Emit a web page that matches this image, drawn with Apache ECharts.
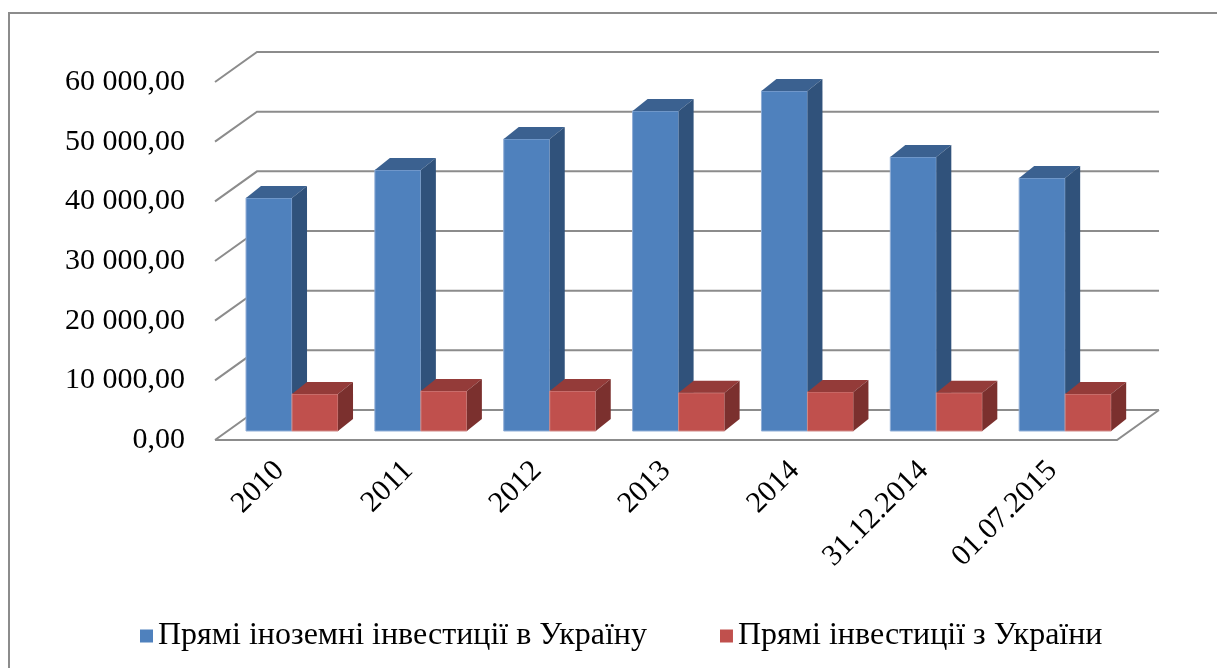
<!DOCTYPE html>
<html>
<head>
<meta charset="utf-8">
<script src="https://cdn.jsdelivr.net/npm/echarts@6.0.0/dist/echarts.min.js"></script>
<style>
  html, body { margin: 0; padding: 0; background: #fff; }
  #chart { width: 1217px; height: 668px; }
</style>
</head>
<body>
<div id="chart"></div>
<script>
const categories = ["2010", "2011", "2012", "2013", "2014", "31.12.2014", "01.07.2015"];
const inflow = [39050, 43740, 48940, 53630, 56980, 45920, 42400];
const outflow = [6200, 6700, 6700, 6400, 6550, 6400, 6200];
const yTicks = [0, 10000, 20000, 30000, 40000, 50000, 60000];
const seriesNames = ["Прямі іноземні інвестиції в Україну", "Прямі інвестиції з України"];

// oblique "3D" offsets (px)
const WALL_DX = 42, WALL_DY = -30;   // front plane -> back wall
const PLANE_DX = 12.6, PLANE_DY = -9; // front plane -> bar front faces
const BAR_DX = 15, BAR_DY = -12;      // bar depth
const FONT = "'Liberation Serif', 'Times New Roman', serif";

const fmt = (v) => String(v).replace(/\B(?=(\d{3})+(?!\d))/g, " ") + ",00";

const lineStyle = { stroke: "#8c8c8c", lineWidth: 2, fill: null };

function renderWall(params, api) {
  const cs = params.coordSys;
  const v = api.value(1);
  const y = api.coord([0, v])[1];
  const xL = cs.x, xR = cs.x + cs.width;
  const children = [{
    type: "polyline",
    shape: { points: [[xL, y], [xL + WALL_DX, y + WALL_DY], [xR + WALL_DX, y + WALL_DY]] },
    style: lineStyle
  }];
  if (v === 0) {
    children.push({
      type: "polyline",
      shape: { points: [[xL, y], [xR, y], [xR + WALL_DX, y + WALL_DY]] },
      style: lineStyle
    });
  }
  return { type: "group", children };
}

function makeBar(side, colors) {
  return function (params, api) {
    const i = api.value(0), v = api.value(1);
    const bw = api.size([1, 0])[0];
    const top = api.coord([i, v]);
    const bot = api.coord([i, 0]);
    const w = bw * 0.357;
    const cx = top[0] + PLANE_DX;
    const x0 = side < 0 ? cx - w : cx;
    const x1 = x0 + w;
    const yt = top[1] + PLANE_DY;
    const yb = bot[1] + PLANE_DY;
    return {
      type: "group",
      children: [
        { type: "rect", shape: { x: x0, y: yt, width: w, height: yb - yt },
          style: { fill: colors[0], stroke: colors[3], lineWidth: 1 } },
        { type: "polygon",
          shape: { points: [[x0, yt], [x1, yt], [x1 + BAR_DX, yt + BAR_DY], [x0 + BAR_DX, yt + BAR_DY]] },
          style: { fill: colors[1] } },
        { type: "polygon",
          shape: { points: [[x1, yt], [x1 + BAR_DX, yt + BAR_DY], [x1 + BAR_DX, yb + BAR_DY], [x1, yb]] },
          style: { fill: colors[2] } }
      ]
    };
  };
}

const blue = ["#4f81bd", "#3b6190", "#30527b", "#8fadd6"];
const red = ["#c0504d", "#943b39", "#7b302e", "#d08a88"];

const chart = echarts.init(document.getElementById("chart"));
chart.setOption({
  animation: false,
  backgroundColor: "#fff",
  graphic: [{
    type: "rect",
    shape: { x: 9, y: 13, width: 1240, height: 700 },
    style: { fill: null, stroke: "#8c8c8c", lineWidth: 2 },
    silent: true
  }],
  legend: {
    data: seriesNames,
    left: 135,
    top: 615,
    icon: "rect",
    itemWidth: 13,
    itemHeight: 13,
    itemGap: 73,
    textStyle: { fontFamily: FONT, fontSize: 32, color: "#000" }
  },
  grid: { left: 215, right: 100, top: 82, bottom: 228 },
  xAxis: {
    type: "category",
    data: categories,
    axisLine: { show: false },
    axisTick: { show: false },
    axisLabel: { rotate: 45, margin: 26, fontFamily: FONT, fontSize: 30, color: "#000", interval: 0 }
  },
  yAxis: {
    type: "value",
    min: 0,
    max: 60000,
    interval: 10000,
    axisLine: { show: false },
    axisTick: { show: false },
    splitLine: { show: false },
    axisLabel: { margin: 30, fontFamily: FONT, fontSize: 30, color: "#000", formatter: fmt }
  },
  series: [
    {
      name: "wall",
      type: "custom",
      silent: true,
      renderItem: renderWall,
      data: yTicks.map((v) => [0, v]),
      z: 1
    },
    {
      name: seriesNames[0],
      type: "custom",
      renderItem: makeBar(-1, blue),
      itemStyle: { color: blue[0] },
      data: inflow.map((v, i) => [i, v]),
      z: 2
    },
    {
      name: seriesNames[1],
      type: "custom",
      renderItem: makeBar(1, red),
      itemStyle: { color: red[0] },
      data: outflow.map((v, i) => [i, v]),
      z: 3
    }
  ]
});
</script>
</body>
</html>
